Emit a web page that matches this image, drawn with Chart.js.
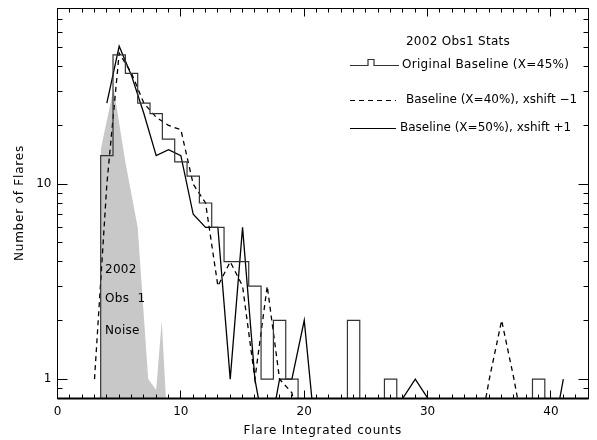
<!DOCTYPE html>
<html>
<head>
<meta charset="utf-8">
<script src="https://cdn.jsdelivr.net/npm/chart.js@4.4.1/dist/chart.umd.min.js"></script>
<style>
  html, body { margin: 0; padding: 0; background: #fff; }
  #wrap { width: 597px; height: 440px; }
</style>
</head>
<body>
<div id="wrap"><canvas id="flares" width="597" height="440"></canvas></div>
<script>
// 2002 Obs1 flare statistics, number of flares per integrated-count bin

// Original baseline (X=45%) histogram, one bin per integer count
const HIST_X = [3, 4, 5, 6, 7, 8, 9, 10, 11, 12, 13, 14, 15, 16, 17, 18, 19, 20, 21, 22, 23,
                24, 25, 26, 27, 28, 29, 30, 31, 32, 33, 34, 35, 36, 37, 38, 39, 40, 41, 42, 43];
const HIST_N = [0, 14, 46, 37, 26, 23, 17, 13, 11, 8, 6, 4, 4, 3, 1, 2, 1, 0, 0, 0, 0,
                2, 0, 0, 1, 0, 0, 0, 0, 0, 0, 0, 0, 0, 0, 0, 1, 0, 0, 0, 0];

// Baseline (X=40%), xshift -1  (dashed)
const DASH_X = [3, 4, 5, 6, 7, 8, 9, 10, 11, 12, 13, 14, 15, 16, 17, 18, 19, 20, 21, 22,
                23, 24, 25, 26, 27, 28, 29, 30, 31, 32, 33, 34, 35, 36, 37, 38];
const DASH_N = [1, 10, 47, 37, 26, 22, 20, 19, 10, 8, 3, 4, 3, 1, 3, 1, 0.85, 0, 0, 0,
                0, 0, 0, 0, 0, 0, 0, 0, 0, 0, 0, 0, 1, 2, 1, 0];

// Baseline (X=50%), xshift +1  (solid)
const SOLID_X = [4, 5, 6, 7, 8, 9, 10, 11, 12, 13, 14, 15, 16, 17, 18, 19, 20, 21, 22,
                 23, 24, 25, 26, 27, 28, 29, 30, 31, 32, 33, 34, 35, 36, 37, 38, 39, 40, 41];
const SOLID_N = [26, 51, 36, 23, 14, 15, 14, 7, 6, 6, 1, 6, 1, 0, 1, 1, 2, 0, 0,
                 0, 0, 0, 0, 0, 0.8, 1, 0.8, 0, 0, 0, 0, 0, 0, 0, 0, 0, 0, 1];

// noise distribution (grey area)
const NOISE_X = [3.5, 3.5, 4.55, 5.5, 6.5, 7.35, 8.0, 8.45, 9.0];
const NOISE_N = [0, 15, 31, 13, 6, 1, 0.88, 2, 0];

const X_TICKS = [0, 10, 20, 30, 40];
const Y_TICKS = [1, 10];
const Y_MINOR = [0.9, 2, 3, 4, 5, 6, 7, 8, 9, 20, 30, 40, 50, 60, 70];

const X_TITLE = 'Flare Integrated counts';
const Y_TITLE = 'Number of Flares';
const LEGEND_TITLE = '2002 Obs1 Stats';
const LEGEND = ['Original Baseline (X=45%)', 'Baseline (X=40%), xshift \u22121', 'Baseline (X=50%), xshift +1'];
const NOISE_NOTE = ['2002', 'Obs  1', 'Noise'];

// zero counts can't sit on a log axis: park them just under the bottom edge
const FLOOR = 0.45;
const pts = (xs, ys) => xs.map((x, i) => ({ x: x, y: ys[i] > 0 ? ys[i] : FLOOR }));

const FONT = '12px "DejaVu Sans", sans-serif';
const crisp = v => Math.round(v - 0.5) + 0.5;

// IDL style frame: inward ticks on all four sides, labels, legend, notes
const idlFrame = {
    id: 'idlFrame',
    afterDraw(chart) {
        const { ctx, chartArea: a } = chart;
        const x = chart.scales.x, y = chart.scales.y;
        const L = crisp(a.left), R = crisp(a.right), T = crisp(a.top), B = crisp(a.bottom);
        ctx.save();
        ctx.strokeStyle = '#000';
        ctx.lineWidth = 1;
        ctx.strokeRect(L, T, R - L, B - T);
        ctx.lineWidth = 2;
        ctx.beginPath(); ctx.moveTo(L, B); ctx.lineTo(R, B); ctx.stroke();

        ctx.lineWidth = 1;
        ctx.beginPath();
        for (let v = 0; v <= 43; v++) {
            const px = crisp(x.getPixelForValue(v));
            const len = X_TICKS.includes(v) ? 8 : 4;
            ctx.moveTo(px, B); ctx.lineTo(px, B - len);
            ctx.moveTo(px, T); ctx.lineTo(px, T + len);
        }
        Y_TICKS.concat(Y_MINOR).forEach(v => {
            const py = crisp(y.getPixelForValue(v));
            const len = Y_TICKS.includes(v) ? 10 : 5;
            ctx.moveTo(L, py); ctx.lineTo(L + len, py);
            ctx.moveTo(R, py); ctx.lineTo(R - len, py);
        });
        ctx.stroke();

        ctx.fillStyle = '#000';
        ctx.font = FONT;
        ctx.textBaseline = 'middle';
        ctx.textAlign = 'center';
        X_TICKS.forEach(v => ctx.fillText(String(v), x.getPixelForValue(v), 412));
        ctx.textAlign = 'right';
        Y_TICKS.forEach(v => ctx.fillText(String(v), a.left - 6, y.getPixelForValue(v)));

        // axis titles, a little wider spaced like the IDL font
        ctx.letterSpacing = '0.8px';
        ctx.textAlign = 'center';
        ctx.fillText(X_TITLE, (a.left + a.right) / 2, 431);
        ctx.save();
        ctx.translate(20, (a.top + a.bottom) / 2);
        ctx.rotate(-Math.PI / 2);
        ctx.fillText(Y_TITLE, 0, 0);
        ctx.restore();

        // noise note
        ctx.letterSpacing = '0.3px';
        ctx.textAlign = 'left';
        const nx = x.getPixelForValue(3.85);
        [270, 299, 331].forEach((py, i) => ctx.fillText(NOISE_NOTE[i], nx, py));

        // legend
        ctx.textAlign = 'center';
        ctx.fillText(LEGEND_TITLE, 458, 42);
        ctx.textAlign = 'left';
        const rows = [65, 100, 128];
        ctx.fillText(LEGEND[0], 402, rows[0]);
        ctx.letterSpacing = '0px';
        ctx.fillText(LEGEND[1], 406, rows[1]);
        ctx.fillText(LEGEND[2], 400, rows[2]);

        ctx.lineWidth = 1.2;
        ctx.strokeStyle = '#333';
        ctx.beginPath();
        const r0 = crisp(rows[0]);
        ctx.moveTo(350, r0); ctx.lineTo(368, r0); ctx.lineTo(368, r0 - 6);
        ctx.lineTo(374, r0 - 6); ctx.lineTo(374, r0); ctx.lineTo(399, r0);
        ctx.stroke();
        ctx.strokeStyle = '#000';
        ctx.setLineDash([5, 4]);
        ctx.beginPath(); ctx.moveTo(350, crisp(rows[1])); ctx.lineTo(396, crisp(rows[1])); ctx.stroke();
        ctx.setLineDash([]);
        ctx.beginPath(); ctx.moveTo(350, crisp(rows[2])); ctx.lineTo(396, crisp(rows[2])); ctx.stroke();
        ctx.restore();
    }
};

new Chart(document.getElementById('flares'), {
    type: 'line',
    data: {
        datasets: [
            {
                label: LEGEND[0],
                data: pts(HIST_X, HIST_N),
                stepped: 'middle',
                borderColor: '#333',
                borderWidth: 1.2,
                pointRadius: 0,
                fill: false
            },
            {
                label: LEGEND[1],
                data: pts(DASH_X, DASH_N),
                borderColor: '#000',
                borderWidth: 1.3,
                borderDash: [5, 4],
                pointRadius: 0,
                fill: false
            },
            {
                label: LEGEND[2],
                data: pts(SOLID_X, SOLID_N),
                borderColor: '#000',
                borderWidth: 1.3,
                pointRadius: 0,
                fill: false
            },
            {
                label: 'Noise',
                data: pts(NOISE_X, NOISE_N),
                borderColor: 'rgba(0,0,0,0)',
                borderWidth: 0,
                backgroundColor: '#c8c8c8',
                pointRadius: 0,
                fill: 'start'
            }
        ]
    },
    options: {
        responsive: false,
        animation: false,
        devicePixelRatio: 1,
        layout: { padding: { left: 0, right: 9, top: 8, bottom: 0 } },
        plugins: { legend: { display: false }, tooltip: { enabled: false } },
        scales: {
            x: {
                type: 'linear', min: 0, max: 43,
                grid: { display: false }, border: { display: false },
                ticks: { display: false },
                afterFit: s => { s.height = 42; }
            },
            y: {
                type: 'logarithmic', min: 0.8, max: 80,
                grid: { display: false }, border: { display: false },
                ticks: { display: false },
                afterFit: s => { s.width = 57.5; }
            }
        }
    },
    plugins: [idlFrame]
});
</script>
</body>
</html>
